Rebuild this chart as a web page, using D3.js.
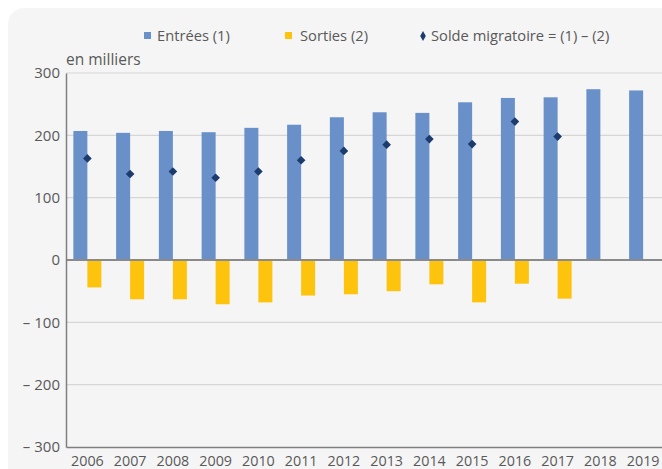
<!DOCTYPE html>
<html lang="fr">
<head>
    <meta charset="utf-8">
    <title>Entrées et sorties</title>
    <script src="https://d3js.org/d3.v7.min.js"></script>
    <style>
        body { margin: 0; background: #fff; }
        text { font-family: "Open Sans", sans-serif; fill: #595959; }
    </style>
</head>
<body>
    <svg width="662" height="469" id="chart"></svg>
    <script>
        var years = ["2006", "2007", "2008", "2009", "2010", "2011", "2012",
                     "2013", "2014", "2015", "2016", "2017", "2018", "2019"];
        var entrees = [207, 204, 207, 205, 212, 217, 229, 237, 236, 253, 260, 261, 274, 272];
        var sorties = [44, 63, 63, 71, 68, 57, 55, 50, 39, 68, 38, 62, null, null];
        var solde = [163, 138, 142, 132, 142, 160, 175, 185, 194, 186, 222, 198, null, null];
        var yTicks = [-300, -200, -100, 0, 100, 200, 300];

        var svg = d3.select("#chart");
        var blue = "#6990c8", yellow = "#fec30d", navy = "#1d3c6e";

        svg.append("rect")
            .attr("x", 8).attr("y", 8)
            .attr("width", 720).attr("height", 520)
            .attr("rx", 16)
            .attr("fill", "#f5f5f5");

        var left = 66, right = 664.5;
        var x = d3.scaleBand().domain(years).range([left, right])
            .paddingInner(0.345).paddingOuter(0.1725);
        var xSub = d3.scaleBand().domain(["e", "s"]).range([0, x.bandwidth()]);
        var y = d3.scaleLinear().domain([-300, 300]).range([447, 73]);

        // grid
        svg.append("g").selectAll("line")
            .data(yTicks.filter(function (d) { return d != 0 && d != -300; }))
            .enter().append("line")
            .attr("x1", left).attr("x2", 662)
            .attr("y1", function (d) { return y(d); })
            .attr("y2", function (d) { return y(d); })
            .attr("stroke", "#d6d6d6")
            .attr("stroke-width", 1.2);

        var rows = years.map(function (yr, i) {
            return { year: yr, e: entrees[i], s: sorties[i], solde: solde[i] };
        });

        svg.append("g").selectAll("rect")
            .data(rows)
            .enter().append("rect")
            .attr("x", function (d) { return x(d.year) + xSub("e"); })
            .attr("y", function (d) { return y(d.e); })
            .attr("width", xSub.bandwidth())
            .attr("height", function (d) { return y(0) - y(d.e); })
            .attr("fill", blue);

        svg.append("g").selectAll("rect")
            .data(rows.filter(function (d) { return d.s != null; }))
            .enter().append("rect")
            .attr("x", function (d) { return x(d.year) + xSub("s"); })
            .attr("y", y(0))
            .attr("width", xSub.bandwidth())
            .attr("height", function (d) { return y(-d.s) - y(0); })
            .attr("fill", yellow);

        // zero line
        svg.append("line")
            .attr("x1", left).attr("x2", 662)
            .attr("y1", y(0)).attr("y2", y(0))
            .attr("stroke", "#8a8a8a")
            .attr("stroke-width", 2);

        svg.append("g").selectAll("path")
            .data(rows.filter(function (d) { return d.solde != null; }))
            .enter().append("path")
            .attr("d", d3.symbol().type(d3.symbolDiamond2).size(48))
            .attr("transform", function (d) {
                return "translate(" + (x(d.year) + x.bandwidth() / 2) + "," + y(d.solde) + ")";
            })
            .attr("fill", navy);

        // axes
        var yAxis = svg.append("g")
            .attr("transform", "translate(" + left + ",0)")
            .call(d3.axisLeft(y).tickValues(yTicks).tickSize(0).tickPadding(6)
                .tickFormat(function (d) { return d < 0 ? "\u2013 " + Math.abs(d) : d; }));
        yAxis.select(".domain").attr("stroke", "#7f7f7f").attr("stroke-width", 1.5);
        yAxis.selectAll("text").style("font-size", "15px").style("font-family", "Open Sans").attr("fill", "#595959");

        var xAxis = svg.append("g")
            .attr("transform", "translate(0," + y(-300) + ")")
            .call(d3.axisBottom(x).tickSize(0).tickPadding(9));
        xAxis.select(".domain").attr("stroke", "#7f7f7f").attr("stroke-width", 1.5);
        xAxis.selectAll("text").style("font-size", "14.3px").style("font-family", "Open Sans").attr("fill", "#595959");

        svg.append("text")
            .attr("x", 66).attr("y", 65)
            .style("font-size", "15.5px")
            .text("en milliers");

        // legend
        var legend = svg.append("g").attr("transform", "translate(0,36)");
        legend.append("rect").attr("x", 144).attr("y", -4).attr("width", 7).attr("height", 7).attr("fill", blue);
        legend.append("text").attr("x", 157).attr("y", 5).style("font-size", "14.7px").text("Entrées (1)");
        legend.append("rect").attr("x", 285).attr("y", -4).attr("width", 7).attr("height", 7).attr("fill", yellow);
        legend.append("text").attr("x", 300).attr("y", 5).style("font-size", "14.7px").text("Sorties (2)");
        legend.append("path")
            .attr("d", d3.symbol().type(d3.symbolDiamond).size(28))
            .attr("transform", "translate(423,0)")
            .attr("fill", navy);
        legend.append("text").attr("x", 431).attr("y", 5).style("font-size", "14.7px").text("Solde migratoire = (1) \u2013 (2)");
    </script>
</body>
</html>
